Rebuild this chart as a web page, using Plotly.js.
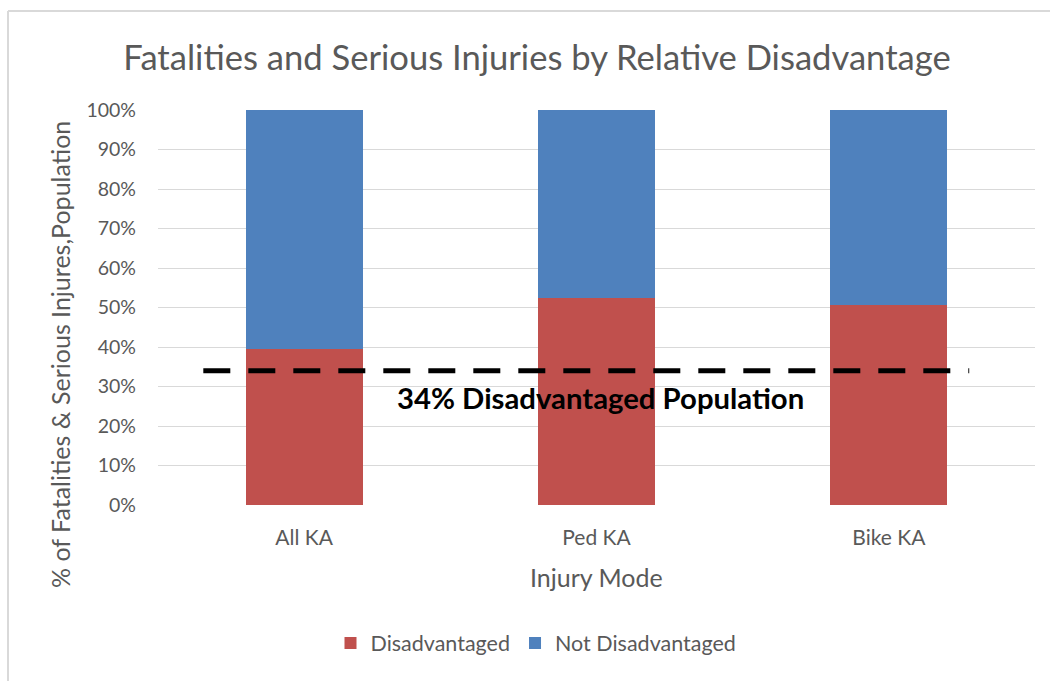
<!DOCTYPE html>
<html>
<head>
<meta charset="utf-8">
<script src="https://cdn.plot.ly/plotly-3.0.1.min.js"></script>
<style>
  html, body { margin: 0; padding: 0; background: #ffffff; }
  #chart { width: 1050px; height: 681px; }
</style>
</head>
<body>
<div id="chart"></div>
<script>
// Injury modes (killed + seriously injured) and the share in disadvantaged areas
const categories = ["All KA", "Ped KA", "Bike KA"];
const disadvantaged = [39.5, 52.3, 50.7];
const notDisadvantaged = [60.5, 47.7, 49.3];
const populationShare = 34;   // % of population living in disadvantaged areas
const yTicks = [0, 10, 20, 30, 40, 50, 60, 70, 80, 90, 100];

const FONT = "Lato, 'Open Sans', sans-serif";
const GREY = "#595959";

const W = 1050, H = 681;
const margin = { l: 158, r: 15, t: 110, b: 176 };
const pw = W - margin.l - margin.r;
const ph = H - margin.t - margin.b;
// pixel -> paper helpers for frame and axis-title placement
const px = v => (v - margin.l) / pw;
const py = v => (H - margin.b - v) / ph;

const traces = [
  {
    type: "bar", name: "Disadvantaged", x: categories, y: disadvantaged,
    marker: { color: "#C0504D" }, hoverinfo: "x+y+name"
  },
  {
    type: "bar", name: "Not Disadvantaged", x: categories, y: notDisadvantaged,
    marker: { color: "#4F81BD" }, hoverinfo: "x+y+name"
  }
];

const layout = {
  width: W, height: H,
  margin: margin,
  paper_bgcolor: "#ffffff",
  plot_bgcolor: "#ffffff",
  barmode: "stack",
  bargap: 0.6,
  font: { family: FONT, color: GREY, size: 19 },
  title: {
    text: "Fatalities and Serious Injuries by Relative Disadvantage",
    font: { family: FONT, size: 34.6, color: GREY },
    x: 537 / W, xref: "container", xanchor: "center",
    y: 1 - 58 / H, yref: "container", yanchor: "middle"
  },
  xaxis: {
    type: "category",
    range: [-0.5, 2.5],
    showgrid: false, zeroline: false, showline: false,
    ticks: "", ticklabelstandoff: 18,
    tickfont: { family: FONT, size: 21, color: GREY },
    fixedrange: true
  },
  yaxis: {
    range: [0, 100],
    tickvals: yTicks,
    ticktext: yTicks.map(v => v + "%"),
    showgrid: true, gridcolor: "#d9d9d9", gridwidth: 1,
    zeroline: false, showline: false,
    ticks: "", ticklabelstandoff: 21,
    tickfont: { family: FONT, size: 19.5, color: GREY },
    fixedrange: true
  },
  legend: {
    orientation: "h",
    x: 536 / W, xanchor: "center", xref: "container",
    y: 1 - 643 / H, yref: "container", yanchor: "middle",
    font: { family: FONT, size: 21.5, color: GREY },
    itemwidth: 30, traceorder: "normal"
  },
  shapes: [
    // population reference line
    {
      type: "line", xref: "x", yref: "y",
      x0: -0.345, x1: 2.275, y0: populationShare, y1: populationShare,
      line: { color: "#000000", width: 5, dash: "27px,18px" },
      layer: "above"
    },
    // outer chart frame (top and left edges)
    {
      type: "line", xref: "paper", yref: "paper",
      x0: px(8), x1: px(1052), y0: py(11), y1: py(11),
      line: { color: "#d9d9d9", width: 2 }
    },
    {
      type: "line", xref: "paper", yref: "paper",
      x0: px(8), x1: px(8), y0: py(11), y1: py(683),
      line: { color: "#d9d9d9", width: 2 }
    }
  ],
  annotations: [
    {
      xref: "x", yref: "y", x: 1, y: populationShare - 6.7,
      text: "<b>" + populationShare + "% Disadvantaged Population</b>",
      showarrow: false,
      font: { family: FONT, size: 29.3, color: "#000000" },
      xanchor: "center", yanchor: "middle", xshift: 4
    },
    // axis titles
    {
      xref: "paper", yref: "paper", x: 0.5, y: py(577),
      text: "Injury Mode", showarrow: false,
      font: { family: FONT, size: 25, color: GREY },
      xanchor: "center", yanchor: "middle"
    },
    {
      xref: "paper", yref: "paper", x: px(60), y: py(355),
      text: "% of Fatalities & Serious Injures,Population", showarrow: false,
      textangle: -90,
      font: { family: FONT, size: 25, color: GREY },
      xanchor: "center", yanchor: "middle"
    }
  ]
};

Plotly.newPlot("chart", traces, layout, { displayModeBar: false, staticPlot: true });
</script>
</body>
</html>
